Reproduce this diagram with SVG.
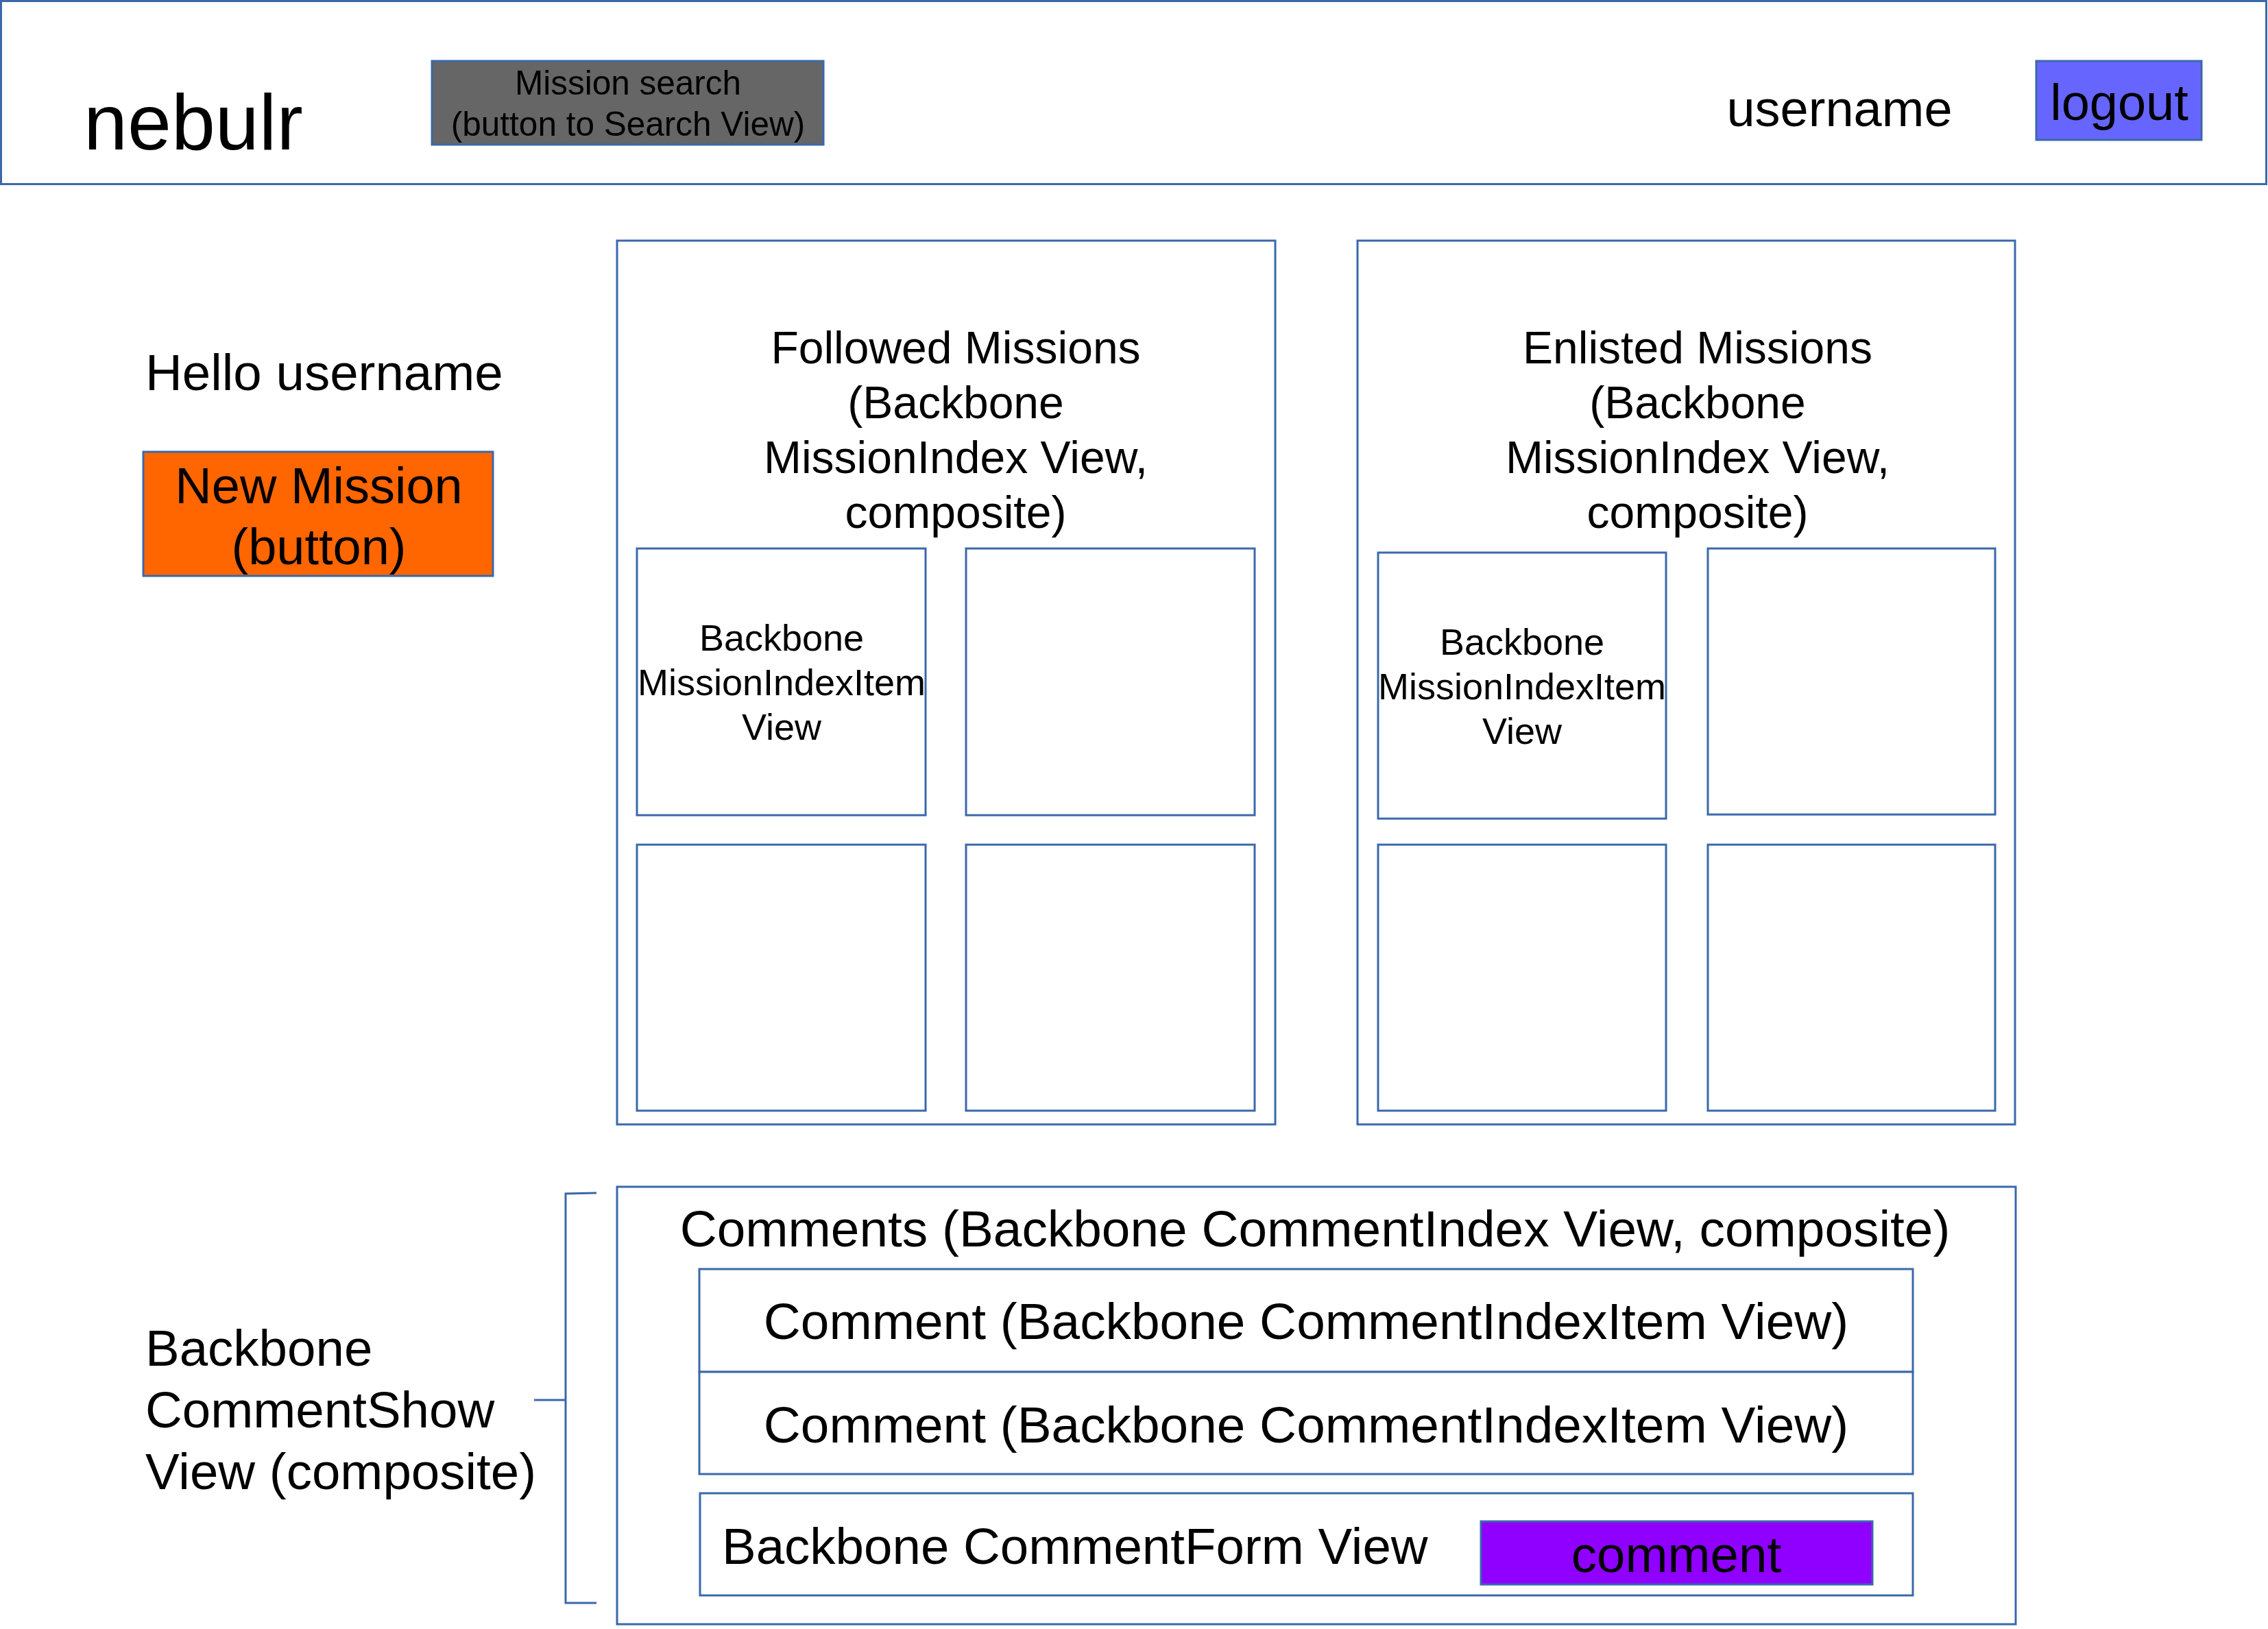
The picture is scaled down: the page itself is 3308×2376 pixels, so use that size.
<svg xmlns="http://www.w3.org/2000/svg" width="3308" height="2376" viewBox="0 0 3308 2376">
<style>
.box{fill:#ffffff;stroke:#3B68AB;stroke-width:3}
.t{font-family:"Liberation Sans",Arial,sans-serif;fill:#000000}
.c{text-anchor:middle}
.line{fill:none;stroke:#3B68AB;stroke-width:3}
</style>
<rect x="0" y="0" width="3308" height="2376" fill="#ffffff"/>
<g id="header">
<rect class="box" x="1.5" y="1.5" width="3304" height="267"/>
<text class="t" x="122" y="218" font-size="115">nebulr</text>
</g>
<g id="mission-search">
<rect x="630" y="89" width="571" height="122" fill="#666666" stroke="#3B68AB" stroke-width="3"/>
<text class="t c" x="916" y="138" font-size="49.5">Mission search</text>
<text class="t c" x="916" y="198" font-size="49.5">(button to Search View)</text>
</g>
<g id="username">
<text class="t c" x="2683" y="184" font-size="74">username</text>
</g>
<g id="logout">
<rect x="2970" y="89" width="241" height="115" fill="#6666FF" stroke="#3B68AB" stroke-width="3"/>
<text class="t c" x="3091" y="175" font-size="74">logout</text>
</g>
<g id="hello">
<text class="t" x="212" y="569" font-size="74.5">Hello username</text>
</g>
<g id="new-mission">
<rect x="209" y="659" width="510" height="181" fill="#FF6600" stroke="#3B68AB" stroke-width="3"/>
<text class="t c" x="465" y="734" font-size="74">New Mission</text>
<text class="t c" x="465" y="823" font-size="74">(button)</text>
</g>
<g id="followed">
<rect class="box" x="900" y="351" width="960" height="1289"/>
<text class="t c" font-size="66"><tspan x="1394" y="530">Followed Missions</tspan><tspan x="1394" y="610">(Backbone</tspan><tspan x="1394" y="690">MissionIndex View,</tspan><tspan x="1394" y="770">composite)</tspan></text>
</g>
<g id="followed-item-1">
<rect class="box" x="929" y="800" width="421" height="389"/>
<text class="t c" font-size="54"><tspan x="1140" y="949">Backbone</tspan><tspan x="1140" y="1014">MissionIndexItem</tspan><tspan x="1140" y="1079">View</tspan></text>
</g>
<g id="followed-item-2"><rect class="box" x="1409" y="800" width="421" height="389"/></g>
<g id="followed-item-3"><rect class="box" x="929" y="1232" width="421" height="388"/></g>
<g id="followed-item-4"><rect class="box" x="1409" y="1232" width="421" height="388"/></g>
<g id="enlisted">
<rect class="box" x="1980" y="351" width="959" height="1289"/>
<text class="t c" font-size="66"><tspan x="2476" y="530">Enlisted Missions</tspan><tspan x="2476" y="610">(Backbone</tspan><tspan x="2476" y="690">MissionIndex View,</tspan><tspan x="2476" y="770">composite)</tspan></text>
</g>
<g id="enlisted-item-1">
<rect class="box" x="2010" y="806" width="420" height="388"/>
<text class="t c" font-size="54"><tspan x="2220" y="955">Backbone</tspan><tspan x="2220" y="1020">MissionIndexItem</tspan><tspan x="2220" y="1085">View</tspan></text>
</g>
<g id="enlisted-item-2"><rect class="box" x="2491" y="800" width="419" height="388"/></g>
<g id="enlisted-item-3"><rect class="box" x="2010" y="1232" width="420" height="388"/></g>
<g id="enlisted-item-4"><rect class="box" x="2491" y="1232" width="419" height="388"/></g>
<g id="comments">
<rect class="box" x="900" y="1731" width="2040" height="638"/>
<text class="t c" x="1918" y="1818" font-size="74.8">Comments (Backbone CommentIndex View, composite)</text>
</g>
<g id="comment-1">
<rect class="box" x="1020" y="1851" width="1770" height="150"/>
<text class="t c" x="1905" y="1953" font-size="74.8">Comment (Backbone CommentIndexItem View)</text>
</g>
<g id="comment-2">
<rect class="box" x="1020" y="2001" width="1770" height="149"/>
<text class="t c" x="1905" y="2104" font-size="74.8">Comment (Backbone CommentIndexItem View)</text>
</g>
<g id="comment-form">
<rect class="box" x="1021" y="2178" width="1769" height="149"/>
<text class="t" x="1053" y="2281" font-size="74.5">Backbone CommentForm View</text>
</g>
<g id="comment-button">
<rect x="2160" y="2219" width="571" height="92" fill="#8F00FF" stroke="#3B68AB" stroke-width="3"/>
<text class="t c" x="2445" y="2293" font-size="74.5">comment</text>
</g>
<g id="comment-show">
<text class="t" font-size="74.5"><tspan x="212" y="1992">Backbone</tspan><tspan x="212" y="2082">CommentShow</tspan><tspan x="212" y="2172">View (composite)</tspan></text>
</g>
<g id="connectors">
<path class="line" d="M870 1740 L825 1741 L825 2338 L870 2338"/>
<path class="line" d="M779 2042 L825 2042"/>
</g>
</svg>
